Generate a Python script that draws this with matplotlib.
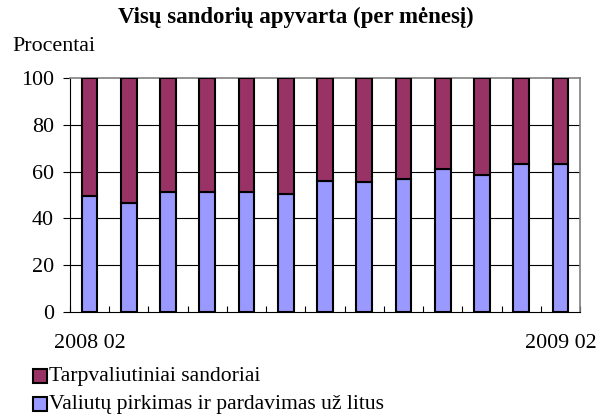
import matplotlib
matplotlib.use("Agg")
import matplotlib.pyplot as plt
from matplotlib.patches import Rectangle
import numpy as np

months = ["2008 02", "2008 03", "2008 04", "2008 05", "2008 06", "2008 07",
          "2008 08", "2008 09", "2008 10", "2008 11", "2008 12", "2009 01", "2009 02"]
valiutu = [49.6, 46.4, 51.2, 51.4, 51.4, 50.3, 56.1, 55.4, 56.9, 61.3, 58.7, 63.2, 63.3]
tarpval = [100 - v for v in valiutu]

title = "Visų sandorių apyvarta (per mėnesį)"
ylabel = "Procentai"
series_names = ["Tarpvaliutiniai sandoriai", "Valiutų pirkimas ir pardavimas už litus"]
colors = ["#993366", "#9999FF"]

plt.rcParams['font.family'] = ['Liberation Serif', 'DejaVu Serif']

W, H = 609, 419
fig = plt.figure(figsize=(W/100, H/100), dpi=100)
ax = fig.add_axes([70/W, 1-311.7/H, 510/W, 233.4/H])

x = np.arange(len(months))
ax.bar(x, valiutu, width=0.4, color=colors[1], edgecolor='black', linewidth=1.5, zorder=3)
ax.bar(x, tarpval, width=0.4, bottom=valiutu, color=colors[0], edgecolor='black', linewidth=1.5, zorder=3)

ax.set_xlim(-0.5, len(months) - 0.5)
ax.set_ylim(0, 100)
ax.set_yticks([0, 20, 40, 60, 80, 100])
ax.tick_params(axis='y', direction='out', length=5, width=0.8, labelsize=15.8, pad=6.5)
for yv in [20, 40, 60, 80]:
    ax.axhline(yv, color='black', linewidth=0.8, zorder=1)

ax.set_xticks(np.arange(-0.5, len(months), 1.0))
ax.set_xticklabels([])
ax.tick_params(axis='x', direction='in', length=4.5, width=0.8)
for i in [0, len(months) - 1]:
    ax.annotate(months[i], xy=(x[i], 0), xycoords=('data', 'axes fraction'),
                xytext=(0, -(343 - 311.7) * 0.72), textcoords='offset points',
                ha='center', va='center', fontsize=15.8, annotation_clip=False)

for s in ['top', 'right']:
    ax.spines[s].set_color('#808080')
    ax.spines[s].set_linewidth(1.2)
for s in ['left', 'bottom']:
    ax.spines[s].set_color('black')
    ax.spines[s].set_linewidth(0.8)

fig.text(296/W, 1-17/H, title, ha='center', va='center', fontsize=16.5, fontweight='bold')
fig.text(12/W, 1-46/H, ylabel, ha='left', va='center', fontsize=15.8)

# legend drawn manually
for j, yc in enumerate([376, 404]):
    fig.patches.append(Rectangle((33/W, 1-(yc+7)/H), 14/W, 14/H, transform=fig.transFigure,
                                 facecolor=colors[j], edgecolor='black', linewidth=1.5))
    fig.text(49/W, 1-yc/H, series_names[j], ha='left', va='center', fontsize=15.6)

fig.savefig("out.png", dpi=100)
